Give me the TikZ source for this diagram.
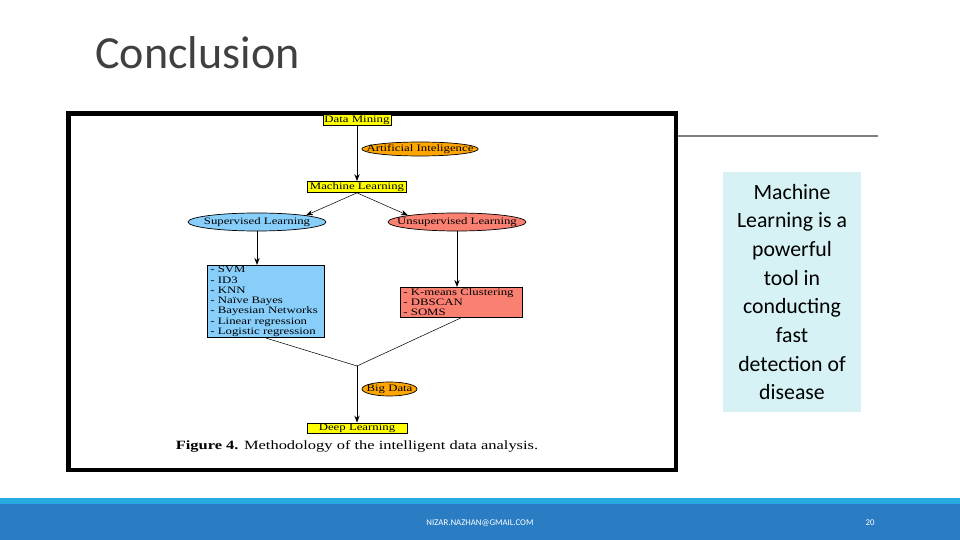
\documentclass[tikz,border=0pt]{standalone}
\usepackage{fontspec}
\setmainfont{Carlito}
\newfontfamily\dgfont[FakeStretch=1.3]{Liberation Serif}
\usetikzlibrary{arrows.meta,shapes.geometric}

\definecolor{titlegray}{HTML}{404040}
\definecolor{footdark}{HTML}{2A7DC2}
\definecolor{footlight}{HTML}{29A9E1}
\definecolor{notecyan}{HTML}{D6F2F5}
\definecolor{dmyellow}{HTML}{FFFF00}
\definecolor{dmorange}{HTML}{FFA500}
\definecolor{dmblue}{HTML}{87CEFA}
\definecolor{dmsalmon}{HTML}{FA8072}

\tikzset{
  dgtext/.style={font=\dgfont\fontsize{5.6}{5.85}\selectfont},
  ybox/.style={dgtext, draw, fill=dmyellow, line width=0.4pt, inner sep=0pt, minimum height=0.22cm},
  oval/.style={dgtext, draw, ellipse, line width=0.4pt, inner ysep=0pt, inner xsep=-7pt, minimum height=0.28cm},
  listbox/.style={dgtext, draw, line width=0.4pt, align=left, inner xsep=0.06cm, inner ysep=0.02cm, anchor=north west},
  flow/.style={line width=0.5pt, -{Stealth[length=4pt,width=3pt]}},
  thinflow/.style={line width=0.3pt, -{Stealth[length=4pt,width=3pt]}},
  mergeline/.style={line width=0.3pt}
}

\begin{document}
\begin{tikzpicture}[x=0.02cm, y=-0.02cm]
  \useasboundingbox (0,0) rectangle (960,540);
  \fill[white] (0,0) rectangle (960,540);

  \node[anchor=base west, font=\fontsize{26.2}{30}\selectfont, text=titlegray, inner sep=0pt] (title) at (95,69) {Conclusion};
  \draw[gray, line width=0.6pt] (678,136) -- (878,136);

  \draw[line width=2.3pt] (68.5,113.5) rectangle (676,470);

  \node[ybox, minimum width=1.36cm] (dm) at (357,120) {Data Mining};
  \node[oval, fill=dmorange, minimum width=2.32cm] (ai) at (420,149) {Artificial Inteligence};
  \node[ybox, minimum width=1.98cm] (ml) at (357,187) {Machine Learning};
  \node[oval, fill=dmblue, minimum width=2.76cm, minimum height=0.36cm] (sup) at (257,222) {Supervised Learning};
  \node[oval, fill=dmsalmon, minimum width=2.76cm, minimum height=0.36cm] (unsup) at (457,222) {Unsupervised Learning};
  \node[listbox, fill=dmblue, text width=2.22cm, minimum height=1.44cm] (suplist) at (207,265)
    {- SVM\\- ID3\\- KNN\\- Naïve Bayes\\- Bayesian Networks\\- Linear regression\\- Logistic regression};
  \node[listbox, fill=dmsalmon, text width=2.32cm, minimum height=0.6cm] (unsuplist) at (400,287)
    {- K-means Clustering\\- DBSCAN\\- SOMS};
  \coordinate (merge) at (357,366);
  \node[oval, fill=dmorange, minimum width=1.1cm] (bd) at (389.5,389) {Big Data};
  \node[ybox, minimum width=2cm, minimum height=0.2cm] (dl) at (357,428) {Deep Learning};
  \node[font=\dgfont\fontsize{7.2}{8}\selectfont, inner sep=0pt] (cap) at (357,446)
    {\textbf{Figure 4.} Methodology of the intelligent data analysis.};

  \draw[flow] (dm) -- (ml);
  \draw[thinflow] (ml.south) -- (sup.north east);
  \draw[thinflow] (ml.south) -- (unsup.north west);
  \draw[flow] (sup) -- (sup |- suplist.north);
  \draw[flow] (unsup) -- (unsup |- unsuplist.north);
  \draw[mergeline] (suplist.south) -- (merge);
  \draw[mergeline] (unsuplist.south) -- (merge);
  \draw[flow] (merge) -- (dl);

  \node[fill=notecyan, minimum width=2.76cm, minimum height=4.8cm, align=center, inner sep=0pt,
    font=\fontsize{12.4}{16.3}\selectfont] (note) at (792,292)
    {Machine\\Learning is a\\powerful\\tool in\\conducting\\fast\\detection of\\disease};

  \fill[footlight] (0,498) rectangle (960,504);
  \fill[footdark] (0,504) rectangle (960,540);
  \node[font=\fontsize{5}{6}\selectfont, text=white] (mail) at (480,523) {NIZAR.NAZHAN@GMAIL.COM};
  \node[font=\fontsize{5}{6}\selectfont, text=white] (page) at (870,523) {20};
\end{tikzpicture}
\end{document}
